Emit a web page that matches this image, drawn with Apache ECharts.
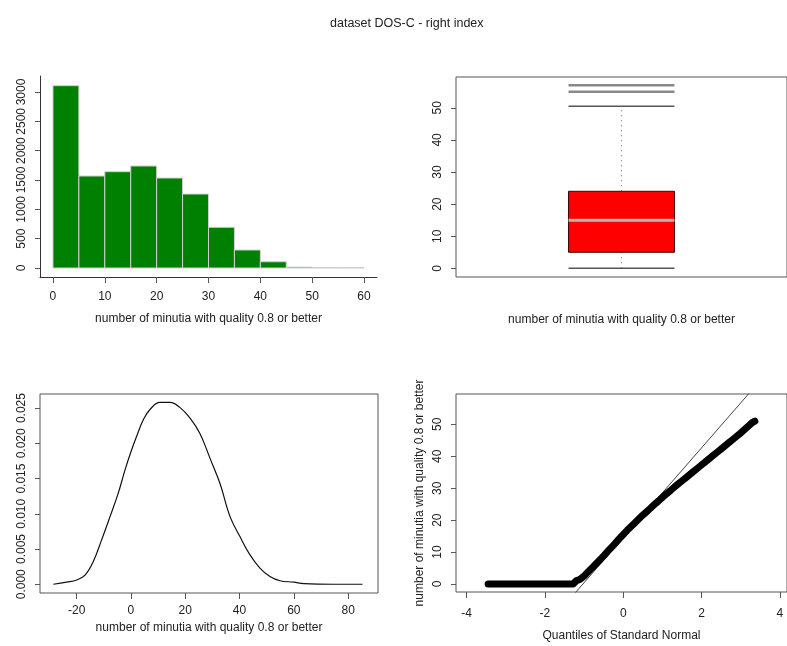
<!DOCTYPE html>
<html><head><meta charset="utf-8">
<script src="https://cdn.jsdelivr.net/npm/echarts@6/dist/echarts.min.js"></script>
<style>html,body{margin:0;padding:0;background:#fff}#c{width:787px;height:646px}</style>
</head><body><div id="c"></div>
<script>
// ---------- data ----------
const titleText = 'dataset DOS-C - right index';
const axisTitle = 'number of minutia with quality 0.8 or better';
const qqXTitle = 'Quantiles of Standard Normal';

// histogram (bins of width 5, from 0 to 60)
const histBinStart = [0, 5, 10, 15, 20, 25, 30, 35, 40, 45, 50, 55];
const histBinEnd   = [5, 10, 15, 20, 25, 30, 35, 40, 45, 50, 55, 60];
const histCounts   = [3108, 1568, 1642, 1739, 1534, 1261, 694, 307, 107, 15, 8, 6];

// boxplot: lower whisker, Q1, median, Q3, upper whisker
const boxStats = [0, 5, 15, 24, 50.5];
const boxOutliers = [55, 57];

// kernel density
const densX = [-28.6, -23.7, -20, -16.9, -13.9, -10.8, -7.7, -4.7, -2.2, 0, 2.1, 4.5, 7, 10.7, 14.4, 18, 21.7, 25.4, 29.1, 32.8, 36.5, 40.1, 43.8, 47.5, 51.2, 54.9, 60, 63.7, 74.5, 85.3];
const densY = [0, 0.0003, 0.0006, 0.0013, 0.0032, 0.0063, 0.0096, 0.0129, 0.0162, 0.0188, 0.021, 0.0233, 0.0248, 0.0258, 0.0258, 0.0251, 0.0236, 0.0214, 0.0179, 0.0143, 0.0096, 0.0068, 0.0042, 0.0023, 0.0011, 0.0005, 0.0003, 0.0001, 0, 0];

// normal QQ plot: dense band of points
const qqBandX = [-3.45,-3.35,-3.25,-3.15,-3.05,-2.95,-2.85,-2.75,-2.65,-2.55,-2.45,-2.35,-2.25,-2.15,-2.05,-1.95,-1.85,-1.75,-1.65,-1.55,-1.45,-1.35,-1.28,
  -1.2,-1.1,-1.0,-0.9,-0.8,-0.7,-0.6,-0.5,-0.4,-0.3,-0.2,-0.1,0,0.1,0.2,0.3,0.4,0.5,0.6,0.7,0.8,0.9,1.0,1.1,1.2,1.3,1.4,1.5,1.6,1.7,1.8,1.9,2.0,2.1,2.2,2.3,2.4,2.5,2.6,2.7,2.8,2.9,3.0,3.1,3.2,3.3,3.36];
const qqBandY = [0,0,0,0,0,0,0,0,0,0,0,0,0,0,0,0,0,0,0,0,0,0,0,
  1,1.5,2.5,3.8,5,6.3,7.5,8.8,10.2,11.5,12.8,14.2,15.5,16.8,18,19.2,20.4,21.6,22.7,23.8,25,26,27.1,28.2,29.2,30.3,31.3,32.3,33.3,34.3,35.3,36.3,37.3,38.3,39.3,40.3,41.3,42.3,43.3,44.3,45.3,46.3,47.3,48.4,49.5,50.6,51];
// sparse extreme points
const qqTailX = [-3.96, -3.66, -3.55, 3.53, 3.66, 3.94];
const qqTailY = [0, 0, 0, 55.5, 56.3, 57];
// reference line through the quartiles
const qqLine = { intercept: 14.5, slope: 14.08 };

// tick values
const histYTicks = [0, 500, 1000, 1500, 2000, 2500, 3000];
const histXTicks = [0, 10, 20, 30, 40, 50, 60];
const boxYTicks = [0, 10, 20, 30, 40, 50];
const densXTicks = [-20, 0, 20, 40, 60, 80];
const densYTicks = [0, 0.005, 0.01, 0.015, 0.02, 0.025];
const qqXTicks = [-4, -2, 0, 2, 4];
const qqYTicks = [0, 10, 20, 30, 40, 50];

// ---------- chart ----------
const FONT = 'Liberation Sans';
const TXT = '#222';
const LINE = '#555';
const txt = { fontFamily: FONT, fontSize: 12, color: TXT };

const chart = echarts.init(document.getElementById('c'));

const qqXMin = -4.27, qqXMax = 4.18;
const qqLineData = [qqXMin, qqXMax].map(x => [x, qqLine.intercept + qqLine.slope * x]);

function frameY(idx, min, max, ticks, fmt, extra, showLine) {
  return Object.assign({
    gridIndex: idx, type: 'value', min: min, max: max, position: 'left',
    axisLine: { show: !!showLine, onZero: false, lineStyle: { color: '#333' } },
    axisTick: { show: true, length: 5, customValues: ticks, lineStyle: { color: LINE } },
    axisLabel: Object.assign({ customValues: ticks, rotate: 90, margin: 12, formatter: fmt }, txt),
    splitLine: { show: false }
  }, extra || {});
}
function frameX(idx, min, max, ticks, name, gap, lmargin, showLine) {
  return {
    gridIndex: idx, type: 'value', min: min, max: max, position: 'bottom',
    axisLine: { show: !!showLine, onZero: false, lineStyle: { color: '#333' } },
    axisTick: { show: !!ticks, length: 6, customValues: ticks || [], lineStyle: { color: LINE } },
    axisLabel: Object.assign({ show: !!ticks, customValues: ticks || [], margin: lmargin }, txt),
    splitLine: { show: false },
    name: name, nameLocation: 'middle', nameGap: gap, nameTextStyle: txt
  };
}

chart.setOption({
  animation: false,
  backgroundColor: '#fff',
  title: { text: titleText, left: 325, top: 12, textStyle: { fontFamily: FONT, fontSize: 12.5, fontWeight: 'normal', color: TXT } },
  grid: [
    { left: 40, top: 76, width: 337, height: 201 },
    { left: 456, top: 77, width: 331, height: 200, show: true, borderColor: LINE, borderWidth: 1, backgroundColor: 'transparent' },
    { left: 40, top: 394, width: 338, height: 199, show: true, borderColor: LINE, borderWidth: 1, backgroundColor: 'transparent' },
    { left: 456, top: 394, width: 331, height: 198, show: true, borderColor: LINE, borderWidth: 1, backgroundColor: 'transparent' }
  ],
  xAxis: [
    frameX(0, -2.5, 62.5, histXTicks, axisTitle, 36, 14, true),
    frameX(1, 0.5, 1.5, null, axisTitle, 37, 10),
    frameX(2, -33.5, 91, densXTicks, axisTitle, 29, 12),
    frameX(3, qqXMin, qqXMax, qqXTicks, qqXTitle, 38, 16)
  ],
  yAxis: [
    frameY(0, -153, 3273, histYTicks, v => String(v), { }, true),
    frameY(1, -2.7, 59.6, boxYTicks, v => String(v)),
    frameY(2, -0.00124, 0.0270, densYTicks, v => v.toFixed(3), {}),
    frameY(3, -2.5, 59.5, qqYTicks, v => String(v), { name: axisTitle, nameLocation: 'middle', nameGap: 30, nameTextStyle: txt })
  ],
  series: [
    { type: 'custom', xAxisIndex: 0, yAxisIndex: 0,
      data: histCounts.map((n, i) => [histBinStart[i], histBinEnd[i], n]),
      renderItem: function (params, api) {
        const a = api.coord([api.value(0), 0]);
        const b = api.coord([api.value(1), api.value(2)]);
        return { type: 'rect', shape: { x: a[0], y: b[1], width: b[0] - a[0], height: a[1] - b[1] },
          style: { fill: '#008000', stroke: '#cfcfcf', lineWidth: 1 } };
      } },
    { type: 'custom', xAxisIndex: 1, yAxisIndex: 1, data: [[1].concat(boxStats)],
      renderItem: function (params, api) {
        const xc = api.value(0), hw = 0.16;
        const c = (x, y) => api.coord([x, y]);
        const lo = api.value(1), q1 = api.value(2), med = api.value(3), q3 = api.value(4), hi = api.value(5);
        const L = xc - hw, R = xc + hw;
        const pL1 = c(L, q1), pR3 = c(R, q3);
        const children = [];
        const ln = (a, b, style) => ({ type: 'line', shape: { x1: a[0], y1: a[1], x2: b[0], y2: b[1] }, style: style });
        const dotted = { stroke: '#777', lineWidth: 1.2, lineDash: [1, 4] };
        children.push(ln(c(xc, q3), c(xc, hi), dotted));
        children.push(ln(c(xc, lo), c(xc, q1), dotted));
        children.push(ln(c(L, hi), c(R, hi), { stroke: '#555', lineWidth: 1.5 }));
        children.push(ln(c(L, lo), c(R, lo), { stroke: '#555', lineWidth: 1.5 }));
        boxOutliers.forEach(o => children.push(ln(c(L, o), c(R, o), { stroke: '#888', lineWidth: 2.5 })));
        children.push({ type: 'rect', shape: { x: pL1[0], y: pR3[1], width: pR3[0] - pL1[0], height: pL1[1] - pR3[1] },
          style: { fill: '#ff0000', stroke: '#400000', lineWidth: 1 } });
        children.push(ln(c(L, med), c(R, med), { stroke: '#b8b8b8', lineWidth: 3 }));
        return { type: 'group', children: children };
      } },
    { type: 'line', xAxisIndex: 2, yAxisIndex: 2, data: densX.map((x, i) => [x, densY[i]]),
      smooth: 0.4, symbol: 'none', lineStyle: { color: '#111', width: 1.2 } },
    { type: 'line', xAxisIndex: 3, yAxisIndex: 3, data: qqLineData, symbol: 'none', clip: true,
      lineStyle: { color: '#444', width: 1 } },
    { type: 'line', xAxisIndex: 3, yAxisIndex: 3, data: qqBandX.map((x, i) => [x, qqBandY[i]]),
      symbol: 'none', lineStyle: { color: '#000', width: 7, cap: 'round', join: 'round' } },
    { type: 'scatter', xAxisIndex: 3, yAxisIndex: 3, data: qqTailX.map((x, i) => [x, qqTailY[i]]),
      symbol: 'emptyCircle', symbolSize: 6, itemStyle: { color: '#fff', borderColor: '#555', borderWidth: 1 } }
  ]
});
</script>
</body></html>
